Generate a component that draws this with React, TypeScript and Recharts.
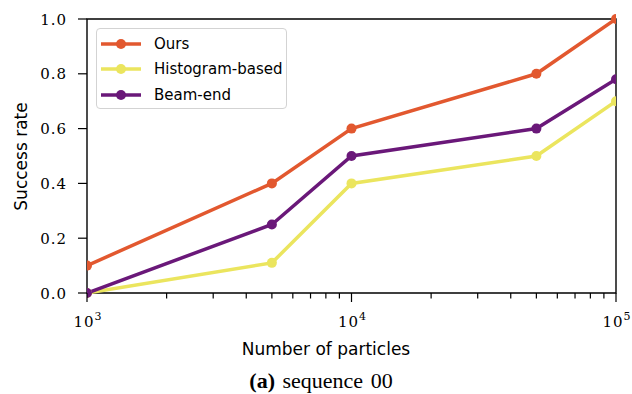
import React from "react";
import {
  LineChart,
  Line,
  XAxis,
  YAxis,
  ReferenceArea,
} from "recharts";

const particles = [1000, 5000, 10000, 50000, 100000];
const oursRate = [0.1, 0.4, 0.6, 0.8, 1.0];
const histogramRate = [0.0, 0.11, 0.4, 0.5, 0.7];
const beamEndRate = [0.0, 0.25, 0.5, 0.6, 0.78];

const yTicks = [0, 0.2, 0.4, 0.6, 0.8, 1.0];
const xMajorTicks = [1000, 10000, 100000];
const xMinorTicks = [
  2000, 3000, 4000, 5000, 6000, 7000, 8000, 9000,
  20000, 30000, 40000, 50000, 60000, 70000, 80000, 90000,
];

const seriesInfo = [
  { key: "ours", name: "Ours", color: "#e2582f" },
  { key: "hist", name: "Histogram-based", color: "#ebe55e" },
  { key: "beam", name: "Beam-end", color: "#6a1879" },
];

const data = particles.map((n, i) => ({
  n,
  ours: oursRate[i],
  hist: histogramRate[i],
  beam: beamEndRate[i],
}));

const SERIF = "'DejaVu Serif', serif";
const CAPTION_SERIF = "'Liberation Serif', serif";
const SANS = "'DejaVu Sans', sans-serif";

const XTick = (props: any) => {
  const { x, y, payload } = props;
  const v = payload.value as number;
  const isMajor = xMajorTicks.includes(v);
  const exp = Math.round(Math.log10(v));
  return (
    <g>
      <line x1={x} x2={x} y1={y} y2={y + (isMajor ? 9 : 5.5)} stroke="#000" strokeWidth={1.2} />
      {isMajor && (
        <text
          x={x + 1}
          y={y + 34}
          textAnchor="middle"
          style={{ fontFamily: SERIF, fontSize: 15, letterSpacing: 1 }}
          fill="#000"
        >
          10
          <tspan dy={-7} style={{ fontSize: 11 }}>
            {exp}
          </tspan>
        </text>
      )}
    </g>
  );
};

const YTick = (props: any) => {
  const { x, y, payload } = props;
  return (
    <g>
      <line x1={x} x2={x - 9} y1={y} y2={y} stroke="#000" strokeWidth={1.2} />
      <text
        x={x - 20}
        y={y + 5.5}
        textAnchor="end"
        style={{ fontFamily: SERIF, fontSize: 15, letterSpacing: 1 }}
        fill="#000"
      >
        {(payload.value as number).toFixed(1)}
      </text>
    </g>
  );
};

const LegendBox = () => (
  <div
    style={{
      position: "absolute",
      left: 96,
      top: 28,
      width: 191,
      height: 81,
      border: "1.5px solid #d3d3d3",
      borderRadius: 4,
      background: "rgba(255,255,255,0.85)",
      boxSizing: "border-box",
    }}
  >
    {seriesInfo.map((s, i) => (
      <div
        key={s.key}
        style={{
          position: "absolute",
          left: 3,
          top: 14.7 + i * 25.7 - 10,
          height: 20,
          display: "flex",
          alignItems: "center",
          whiteSpace: "nowrap",
        }}
      >
        <svg width={42} height={14} style={{ marginRight: 12 }}>
          <line x1={1} x2={41} y1={7} y2={7} stroke={s.color} strokeWidth={3.5} />
          <circle cx={21} cy={7} r={5} fill={s.color} />
        </svg>
        <span style={{ fontFamily: SANS, fontSize: 15, color: "#000", lineHeight: "20px" }}>{s.name}</span>
      </div>
    ))}
  </div>
);

export default function App() {
  return (
    <div style={{ position: "absolute", left: 0, top: 0, width: 632, height: 394, background: "#fff" }}>
      <LineChart
        width={632}
        height={394}
        data={data}
        margin={{ top: 19, right: 16, bottom: 0, left: 0 }}
      >
        <XAxis
          dataKey="n"
          type="number"
          scale="log"
          domain={[1000, 100000]}
          ticks={[...xMajorTicks, ...xMinorTicks]}
          interval={0}
          tick={<XTick />}
          tickLine={false}
          tickSize={0}
          tickMargin={0}
          axisLine={false}
          height={101}
          allowDataOverflow
        />
        <YAxis
          type="number"
          domain={[0, 1]}
          ticks={yTicks}
          interval={0}
          tick={<YTick />}
          tickLine={false}
          tickSize={0}
          tickMargin={0}
          axisLine={false}
          width={87}
        />
        <ReferenceArea
          x1={1000}
          x2={100000}
          y1={0}
          y2={1}
          fill="none"
          stroke="#000"
          strokeWidth={1.4}
          ifOverflow="visible"
        />
        {seriesInfo.map((s) => (
          <Line
            key={s.key}
            dataKey={s.key}
            name={s.name}
            stroke={s.color}
            strokeWidth={3.5}
            dot={{ r: 5, fill: s.color, stroke: s.color, strokeWidth: 0 }}
            activeDot={false}
            isAnimationActive={false}
          />
        ))}
      </LineChart>
      <LegendBox />
      <svg
        width={632}
        height={394}
        style={{ position: "absolute", left: 0, top: 0, pointerEvents: "none" }}
      >
        <text
          transform="translate(27 156.5) rotate(-90)"
          textAnchor="middle"
          style={{ fontFamily: SANS, fontSize: 17 }}
          fill="#000"
        >
          Success rate
        </text>
        <text
          x={326}
          y={355}
          textAnchor="middle"
          style={{ fontFamily: SANS, fontSize: 17 }}
          fill="#000"
        >
          Number of particles
        </text>
        <text
          x={321}
          y={388}
          textAnchor="middle"
          style={{ fontFamily: CAPTION_SERIF, fontSize: 22, wordSpacing: 2 }}
          fill="#000"
        >
          <tspan fontWeight="bold">(a)</tspan> sequence 00
        </text>
      </svg>
    </div>
  );
}
